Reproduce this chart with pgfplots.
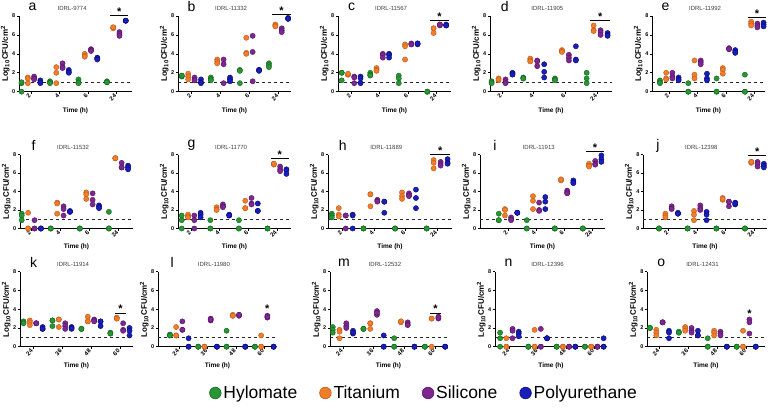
\documentclass[border=0pt]{standalone}
\usepackage{pgfplots}
\pgfplotsset{compat=1.18}
\usepackage{fontspec}
\setmainfont{Liberation Sans}
\definecolor{gF}{RGB}{40,150,50}\definecolor{gD}{RGB}{20,100,30}
\definecolor{oF}{RGB}{240,125,40}\definecolor{oD}{RGB}{190,90,30}
\definecolor{pF}{RGB}{125,40,145}\definecolor{pD}{RGB}{85,20,100}
\definecolor{bF}{RGB}{25,30,185}\definecolor{bD}{RGB}{10,10,120}
\pgfplotsset{
  pan/.style={scale only axis, width=113pt, height=75pt,
    xmin=-0.45, xmax=3.45, ymin=0, ymax=8,
    ytick={0,2,4,6,8}, xtick={0,1,2,3},
    axis lines*=left, axis line style={line width=0.7pt},
    tick style={line width=0.6pt, black}, major tick length=2pt, tick align=outside,
    clip=false,
    yticklabel style={font=\fontsize{5.5}{6}\selectfont\bfseries, inner sep=1.5pt},
    xticklabel style={font=\fontsize{6}{6}\selectfont\bfseries, rotate=45, anchor=east, inner sep=1.5pt},
    xlabel={Time (h)}, xlabel style={font=\fontsize{6.5}{7}\selectfont\bfseries, inner sep=1pt, yshift=-3pt},
    ylabel={Log\textsubscript{10}CFU/cm\textsuperscript{2}},
    ylabel style={font=\fontsize{8}{8}\selectfont\bfseries, inner sep=1pt},
    /pgf/number format/assume math mode=true},
  r12/.style={xticklabels={2,4,6,24}},
  r3/.style={xticklabels={24,36,48,60}},
  G/.style={only marks, mark=*, mark size=2.6pt, mark options={draw=gD, fill=gF, line width=0.4pt}, x filter/.expression={x-0.33}},
  O/.style={only marks, mark=*, mark size=2.6pt, mark options={draw=oD, fill=oF, line width=0.4pt}, x filter/.expression={x-0.11}},
  P/.style={only marks, mark=*, mark size=2.6pt, mark options={draw=pD, fill=pF, line width=0.4pt}, x filter/.expression={x+0.11}},
  B/.style={only marks, mark=*, mark size=2.6pt, mark options={draw=bD, fill=bF, line width=0.4pt}, x filter/.expression={x+0.33}},
}
\newcommand{\dash}{\draw[dashed, line width=0.7pt, black!85] (axis cs:\pgfkeysvalueof{/pgfplots/xmin},1) -- (axis cs:\pgfkeysvalueof{/pgfplots/xmax},1);}
\newcommand{\lab}[2]{\node[font=\fontsize{14}{14}\selectfont] at (axis description cs:0.12,1.12) {#1};
  \node[font=\fontsize{6}{6}\selectfont, text=black!75] at (axis description cs:0.47,1.1) {#2};}
\newcommand{\sig}[4]{\draw[line width=0.8pt] (axis cs:#1,#3) -- (axis cs:#2,#3);
  \node[font=\fontsize{11}{11}\selectfont\bfseries, anchor=center] at (axis cs:{(#1+#2)/2},#4) {*};}
\newcommand{\st}[2]{\node[font=\fontsize{11}{11}\selectfont\bfseries, anchor=center] at (axis cs:#1,#2) {*};}
\begin{document}
\begin{tikzpicture}
% ---------- row 1 ----------
\begin{axis}[pan, r12, at={(19pt,324.3pt)}, anchor=south west, height=75.7pt, xmin=-0.42, xmax=3.55]
\addplot[G] coordinates {(0,0)(0,0.9)(0,1.0)(1,1.1)(1,1.0)(1,0.9)(2,1.3)(2,1.0)(2,0.9)(3,1.1)(3,1.0)(3,1.0)};
\addplot[O] coordinates {(0,1.5)(0,1.4)(0,0.9)(1,2.6)(1,2.0)(1,0.9)(2,4.0)(2,3.8)(2,3.7)(3,6.8)(3,6.7)(3,6.8)};
\addplot[P] coordinates {(0,1.6)(0,1.4)(0,1.3)(1,3.0)(1,2.6)(1,2.5)(2,4.5)(2,4.4)(2,4.3)(3,6.3)(3,6.1)(3,5.9)};
\addplot[B] coordinates {(0,1.2)(0,1.0)(0,0.9)(1,2.3)(1,2.1)(1,2.0)(2,3.6)(2,3.5)(2,3.4)(3,7.5)(3,7.5)(3,7.5)};
\dash \lab{a}{IDRL-9774} \sig{2.78}{3.42}{8.1}{8.45}
\end{axis}
\begin{axis}[pan, r12, at={(178pt,324.3pt)}, anchor=south west, height=75.7pt, xmin=-0.46, xmax=3.43]
\addplot[G] coordinates {(0,1.7)(0,1.6)(0,1.7)(1,1.5)(1,1.3)(1,1.2)(2,2.3)(2,0.9)(2,2.2)(3,3.0)(3,2.8)(3,2.6)};
\addplot[O] coordinates {(0,1.9)(0,1.6)(0,1.3)(1,3.4)(1,3.2)(1,3.0)(2,5.7)(2,4.1)(2,4.0)(3,7.1)(3,7.0)(3,6.9)};
\addplot[P] coordinates {(0,1.5)(0,1.3)(0,1.2)(1,3.4)(1,2.9)(1,0.9)(2,5.9)(2,4.2)(2,1.1)(3,6.7)(3,6.5)(3,6.3)};
\addplot[B] coordinates {(0,1.3)(0,1.0)(0,0.9)(1,1.5)(1,1.3)(1,1.1)(2,2.3)(2,2.3)(2,2.2)(3,7.8)(3,7.7)(3,7.7)};
\dash \lab{b}{IDRL-11332} \sig{2.78}{3.42}{8.2}{8.55}
\end{axis}
\begin{axis}[pan, r12, at={(338pt,324.3pt)}, anchor=south west, height=75.7pt, xmin=-0.46, xmax=3.5]
\addplot[G] coordinates {(0,2.0)(0,1.2)(0,2.0)(1,2.0)(1,1.8)(1,1.7)(2,1.7)(2,1.4)(2,0.9)(3,0)(3,0)(3,0)};
\addplot[O] coordinates {(0,1.8)(0,1.8)(0,1.9)(1,2.5)(1,2.3)(1,2.2)(2,5.0)(2,4.8)(2,3.4)(3,6.7)(3,6.2)(3,6.7)};
\addplot[P] coordinates {(0,1.6)(0,0.9)(0,1.5)(1,4.0)(1,3.9)(1,3.6)(2,5.1)(2,5.0)(2,5.0)(3,7.1)(3,7.0)(3,7.1)};
\addplot[B] coordinates {(0,1.6)(0,1.4)(0,0.9)(1,4.0)(1,3.9)(1,3.6)(2,5.1)(2,5.0)(2,5.1)(3,7.1)(3,7.0)(3,7.0)};
\dash \lab{c}{IDRL-11567} \sig{2.78}{3.42}{7.5}{7.9}
\end{axis}
\begin{axis}[pan, r12, at={(490pt,324.3pt)}, anchor=south west, height=75.7pt, width=122pt, xmin=-0.38, xmax=3.47]
\addplot[G] coordinates {(0,1.1)(0,1.0)(0,0.9)(1,1.5)(1,1.4)(1,1.4)(2,1.4)(2,1.3)(2,1.2)(3,2.0)(3,1.4)(3,0.9)};
\addplot[O] coordinates {(0,1.4)(0,1.2)(0,1.3)(1,3.5)(1,3.3)(1,3.2)(2,4.4)(2,4.3)(2,4.2)(3,7.0)(3,6.5)(3,6.4)};
\addplot[P] coordinates {(0,1.3)(0,1.1)(0,0.9)(1,3.3)(1,3.2)(1,2.7)(2,3.9)(2,3.6)(2,3.3)(3,6.5)(3,6.3)(3,6.0)};
\addplot[B] coordinates {(0,2.0)(0,1.9)(0,1.8)(1,2.9)(1,2.1)(1,1.5)(2,4.8)(2,3.4)(2,3.3)(3,6.2)(3,6.0)(3,5.9)};
\dash \lab{d}{IDRL-11905} \sig{2.78}{3.42}{7.5}{7.9}
\end{axis}
\begin{axis}[pan, r12, at={(652pt,324.3pt)}, anchor=south west, height=75.7pt, xmin=-0.61, xmax=3.38]
\addplot[G] coordinates {(0,1.2)(0,1.0)(0,0.9)(1,0.9)(1,0)(1,0)(2,1.4)(2,0)(2,0)(3,1.8)(3,0)(3,0)};
\addplot[O] coordinates {(0,2.0)(0,1.4)(0,1.3)(1,3.3)(1,1.8)(1,1.4)(2,2.5)(2,2.3)(2,1.9)(3,7.4)(3,7.2)(3,7.0)};
\addplot[P] coordinates {(0,2.0)(0,1.6)(0,1.4)(1,3.3)(1,3.1)(1,2.9)(2,4.6)(2,4.5)(2,4.5)(3,7.2)(3,7.0)(3,6.8)};
\addplot[B] coordinates {(0,1.5)(0,1.3)(0,1.2)(1,1.9)(1,1.4)(1,1.2)(2,4.4)(2,4.2)(2,4.1)(3,7.3)(3,7.1)(3,6.9)};
\dash \lab{e}{IDRL-11992} \sig{2.78}{3.42}{7.85}{8.25}
\end{axis}
% ---------- row 2 ----------
\begin{axis}[pan, r12, at={(20pt,187.5pt)}, anchor=south west, height=74pt, xmin=-0.39, xmax=3.5]
\addplot[G] coordinates {(0,1.6)(0,1.4)(0,0.9)(1,0)(1,0)(1,0)(2,0)(2,0)(2,0)(3,1.8)(3,0)(3,0)};
\addplot[O] coordinates {(0,1.7)(0,0)(0,0)(1,2.8)(1,1.6)(1,2.7)(2,3.9)(2,3.7)(2,3.2)(3,7.6)(3,7.6)(3,7.6)};
\addplot[P] coordinates {(0,0.9)(0,0)(0,0)(1,2.4)(1,2.1)(1,1.4)(2,3.8)(2,3.1)(2,2.6)(3,7.1)(3,6.6)(3,6.6)};
\addplot[B] coordinates {(0,0)(0,0)(0,0)(1,1.9)(1,1.8)(1,1.8)(2,2.5)(2,2.3)(2,2.2)(3,6.8)(3,6.6)(3,6.4)};
\dash \lab{f}{IDRL-11532}
\end{axis}
\begin{axis}[pan, r12, at={(178pt,187.5pt)}, anchor=south west, height=74pt, xmin=-0.46, xmax=3.49]
\addplot[G] coordinates {(0,1.4)(0,0.9)(0,0)(1,0.9)(1,0)(1,0)(2,0.9)(2,0)(2,0)(3,0)(3,0)(3,0)};
\addplot[O] coordinates {(0,1.5)(0,1.3)(0,1.2)(1,2.3)(1,2.1)(1,2.0)(2,3.0)(2,2.2)(2,2.2)(3,7.0)(3,6.9)(3,7.0)};
\addplot[P] coordinates {(0,1.4)(0,0.9)(0,0)(1,2.6)(1,2.4)(1,2.3)(2,3.3)(2,2.7)(2,2.6)(3,6.7)(3,6.4)(3,6.2)};
\addplot[B] coordinates {(0,1.7)(0,1.5)(0,1.2)(1,1.5)(1,1.4)(1,1.4)(2,2.7)(2,1.9)(2,1.9)(3,6.4)(3,6.3)(3,5.9)};
\dash \lab{g}{IDRL-11770} \sig{2.78}{3.42}{7.57}{8.0}
\end{axis}
\begin{axis}[pan, r12, at={(328pt,187.5pt)}, anchor=south west, height=74pt, width=124pt, xmin=-0.45, xmax=3.47]
\addplot[G] coordinates {(0,1.6)(0,1.4)(0,1.2)(1,0)(1,0)(1,0)(2,0)(2,0)(2,0)(3,0)(3,0)(3,0)};
\addplot[O] coordinates {(0,2.2)(0,1.5)(0,1.3)(1,3.7)(1,2.4)(1,3.7)(2,3.9)(2,3.5)(2,3.2)(3,7.4)(3,7.1)(3,6.5)};
\addplot[P] coordinates {(0,1.4)(0,1.4)(0,0)(1,3.1)(1,3.0)(1,2.9)(2,3.8)(2,3.6)(2,3.5)(3,7.2)(3,7.0)(3,6.8)};
\addplot[B] coordinates {(0,1.5)(0,1.4)(0,0)(1,2.9)(1,1.7)(1,2.9)(2,4.2)(2,3.3)(2,2.2)(3,7.5)(3,7.1)(3,7.0)};
\dash \lab{h}{IDRL-11889} \sig{2.78}{3.42}{8.0}{8.4}
\end{axis}
\begin{axis}[pan, r12, at={(480pt,187.5pt)}, anchor=south west, height=74pt, width=125pt, xmin=-1.0, xmax=3.46]
\addplot[G] coordinates {(0,1.6)(0,0.9)(0,0.9)(1,0.9)(1,0)(1,0)(2,0)(2,0)(2,0)(3,0)(3,0)(3,0)};
\addplot[O] coordinates {(0,2.1)(0,2.0)(0,1.4)(1,3.5)(1,3.0)(1,2.1)(2,5.3)(2,5.2)(2,5.3)(3,7.0)(3,6.8)(3,6.7)};
\addplot[P] coordinates {(0,1.2)(0,1.0)(0,0.9)(1,2.8)(1,2.0)(1,1.9)(2,4.1)(2,3.9)(2,3.8)(3,7.3)(3,7.0)(3,6.9)};
\addplot[B] coordinates {(0,1.7)(0,1.7)(0,1.7)(1,3.4)(1,2.9)(1,2.1)(2,5.2)(2,5.0)(2,4.9)(3,7.9)(3,7.5)(3,7.2)};
\dash \lab{i}{IDRL-11913} \sig{2.78}{3.42}{8.3}{8.7}
\end{axis}
\begin{axis}[pan, r12, at={(643pt,187.5pt)}, anchor=south west, height=74pt, width=124pt, xmin=-0.89, xmax=3.44]
\addplot[G] coordinates {(0,0)(0,0)(0,0)(1,0)(1,0)(1,0)(2,0)(2,0)(2,0)(3,0)(3,0)(3,0)};
\addplot[O] coordinates {(0,1.6)(0,1.4)(0,1.2)(1,1.9)(1,1.5)(1,0.9)(2,3.3)(2,3.1)(2,3.2)(3,7.2)(3,7.1)(3,7.2)};
\addplot[P] coordinates {(0,2.4)(0,2.2)(0,2.1)(1,2.5)(1,2.2)(1,2.0)(2,2.9)(2,2.4)(2,2.9)(3,7.2)(3,7.0)(3,6.7)};
\addplot[B] coordinates {(0,1.7)(0,1.6)(0,1.6)(1,1.8)(1,1.5)(1,0.9)(2,2.8)(2,2.6)(2,2.7)(3,7.0)(3,6.8)(3,6.6)};
\dash \lab{j}{IDRL-12398} \sig{2.78}{3.42}{7.86}{8.3}
\end{axis}
% ---------- row 3 ----------
\begin{axis}[pan, r3, at={(20pt,69.3pt)}, anchor=south west, height=75pt, xmin=-0.45, xmax=3.45]
\addplot[G] coordinates {(0,2.7)(0,2.6)(0,2.5)(1,2.8)(1,2.2)(1,2.8)(2,1.9)(2,1.9)(2,1.9)(3,1.5)(3,1.4)(3,1.4)};
\addplot[O] coordinates {(0,2.8)(0,2.6)(0,2.3)(1,2.9)(1,2.1)(1,2.9)(2,3.2)(2,2.7)(2,2.7)(3,3.1)(3,3.0)(3,3.0)};
\addplot[P] coordinates {(0,2.5)(0,2.5)(0,2.5)(1,2.5)(1,2.2)(1,1.9)(2,2.9)(2,2.8)(2,2.7)(3,2.5)(3,1.8)(3,1.7)};
\addplot[B] coordinates {(0,2.1)(0,1.9)(0,1.9)(1,2.1)(1,2.0)(1,1.9)(2,2.7)(2,2.7)(2,2.2)(3,2.0)(3,1.7)(3,1.2)};
\dash \lab{k}{IDRL-11914} \sig{2.83}{3.2}{3.6}{4.05}
\end{axis}
\begin{axis}[pan, r3, at={(158pt,69.3pt)}, anchor=south west, height=75pt, width=119pt, xmin=-0.75, xmax=3.45]
\addplot[G] coordinates {(0,1.3)(0,1.2)(0,1.2)(1,0)(1,0)(1,0)(2,1.7)(2,0)(2,0)(3,0)(3,0)(3,0)};
\addplot[O] coordinates {(0,2.1)(0,1.2)(0,1.2)(1,0)(1,0)(1,0)(2,3.4)(2,3.3)(2,3.3)(3,1.2)(3,0)(3,0)};
\addplot[P] coordinates {(0,2.7)(0,1.8)(0,1.8)(1,3.0)(1,2.8)(1,2.9)(2,3.4)(2,3.3)(2,3.4)(3,3.3)(3,3.1)(3,3.2)};
\addplot[B] coordinates {(0,0.9)(0,0)(0,0)(1,0)(1,0)(1,0)(2,0)(2,0)(2,0)(3,0)(3,0)(3,0)};
\dash \lab{l}{IDRL-11980} \st{3.11}{4.0}
\end{axis}
\begin{axis}[pan, r3, at={(330pt,69.3pt)}, anchor=south west, height=75pt, width=117pt, xmin=-0.42, xmax=3.39]
\addplot[G] coordinates {(0,2.1)(0,1.8)(0,1.5)(1,1.9)(1,1.9)(1,1.9)(2,0.9)(2,0)(2,0)(3,0)(3,0)(3,0)};
\addplot[O] coordinates {(0,1.8)(0,1.6)(0,0.9)(1,2.5)(1,1.9)(1,2.5)(2,2.7)(2,2.6)(2,2.7)(3,3.0)(3,0)(3,3.0)};
\addplot[P] coordinates {(0,2.5)(0,2.2)(0,2.0)(1,3.8)(1,3.4)(1,3.6)(2,2.6)(2,2.4)(2,2.3)(3,3.2)(3,3.0)(3,3.1)};
\addplot[B] coordinates {(0,1.7)(0,1.4)(0,1.5)(1,1.2)(1,0)(1,0)(2,0)(2,0)(2,0)(3,0)(3,0)(3,0)};
\dash \lab{m}{IDRL-12532} \sig{2.83}{3.2}{3.6}{4.05}
\end{axis}
\begin{axis}[pan, r3, at={(495pt,69.3pt)}, anchor=south west, height=75pt, width=112pt, xmin=-0.51, xmax=3.45]
\addplot[G] coordinates {(0,1.5)(0,0.9)(0,0)(1,0)(1,0)(1,0)(2,0)(2,0)(2,0)(3,0)(3,0)(3,0)};
\addplot[O] coordinates {(0,0.9)(0,0)(0,0)(1,1.8)(1,0)(1,0)(2,0)(2,0)(2,0)(3,0)(3,0)(3,0)};
\addplot[P] coordinates {(0,1.9)(0,1.7)(0,0.9)(1,1.9)(1,0)(1,0)(2,0)(2,0)(2,0)(3,0)(3,0)(3,0)};
\addplot[B] coordinates {(0,1.6)(0,1.4)(0,1.1)(1,0.9)(1,0.9)(1,0.9)(2,0)(2,0)(2,0)(3,0.9)(3,0)(3,0)};
\dash \lab{n}{IDRL-12396}
\end{axis}
\begin{axis}[pan, r3, at={(647pt,69.3pt)}, anchor=south west, height=75pt, width=118pt, xmin=-0.43, xmax=3.65]
\addplot[G] coordinates {(0,2.0)(0,2.0)(0,2.0)(1,1.6)(1,1.5)(1,1.5)(2,0.9)(2,0)(2,0)(3,0)(3,0)(3,0)};
\addplot[O] coordinates {(0,1.8)(0,1.5)(0,1.2)(1,2.1)(1,1.9)(1,1.7)(2,1.7)(2,1.5)(2,1.2)(3,1.7)(3,0)(3,0)};
\addplot[P] coordinates {(0,2.6)(0,2.6)(0,2.6)(1,2.0)(1,1.7)(1,1.5)(2,1.6)(2,1.4)(2,1.2)(3,2.9)(3,2.6)(3,1.4)};
\addplot[B] coordinates {(0,1.7)(0,1.5)(0,0.9)(1,1.7)(1,1.2)(1,1.2)(2,0)(2,0)(2,0)(3,0)(3,0)(3,0)};
\dash \lab{o}{IDRL-12431} \st{3.11}{3.5}
\end{axis}
% ---------- legend ----------
\begin{axis}[hide axis, scale only axis, width=10pt, height=10pt, at={(424pt,23pt)}, anchor=center,
  xmin=0, xmax=1, ymin=0, ymax=1,
  legend columns=4,
  legend style={at={(0.5,0.5)}, anchor=center, draw=none, fill=none,
    font=\fontsize{17.5}{19}\selectfont, legend cell align=left,
    /tikz/every even column/.append style={column sep=20pt}},
  legend image code/.code={\draw[#1] (0pt,0pt) circle (5.8pt);}]
\addlegendimage{draw=gD, fill=gF, line width=0.6pt}\addlegendentry{Hylomate}
\addlegendimage{draw=oD, fill=oF, line width=0.6pt}\addlegendentry{Titanium}
\addlegendimage{draw=pD, fill=pF, line width=0.6pt}\addlegendentry{Silicone}
\addlegendimage{draw=bD, fill=bF, line width=0.6pt}\addlegendentry{Polyurethane}
\end{axis}
\pgfresetboundingbox
\path[use as bounding box] (0,0) rectangle (770pt,416pt);
\end{tikzpicture}
\end{document}
